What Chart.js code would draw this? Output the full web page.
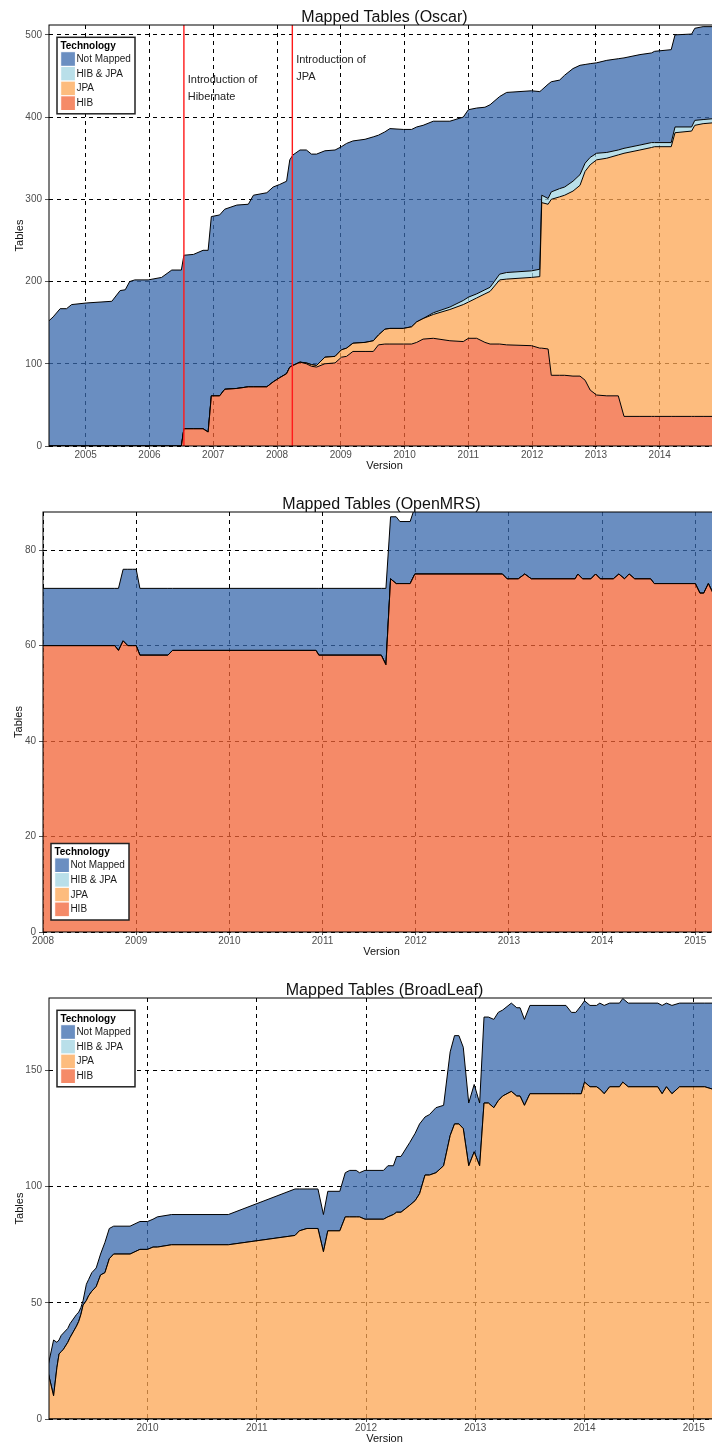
<!DOCTYPE html>
<html>
<head>
<meta charset="utf-8">
<title>Mapped Tables</title>
<script src="https://cdn.jsdelivr.net/npm/chart.js"></script>
<style>
  html, body { margin: 0; padding: 0; background: #fff; width: 712px; height: 1448px; overflow: hidden; }
  canvas { position: absolute; left: 0; }
</style>
</head>
<body>
<canvas id="oscar" width="720" height="473" style="top:0px"></canvas>
<canvas id="openmrs" width="720" height="479" style="top:480px"></canvas>
<canvas id="broadleaf" width="720" height="476" style="top:970px"></canvas>

<script>
// stack order, bottom -> top
const techLabels = ['HIB', 'JPA', 'HIB & JPA', 'Not Mapped'];

// ---- Oscar ----
const oscarYearTicks = [2005, 2006, 2007, 2008, 2009, 2010, 2011, 2012, 2013, 2014];
const oscarTableTicks = [0, 100, 200, 300, 400, 500];
const oscarVersions = [
  2004.42, 2004.49, 2004.60, 2004.70, 2004.78, 2005.02, 2005.41, 2005.54, 2005.62, 2005.69,
  2005.77, 2005.98, 2006.19, 2006.35, 2006.50, 2006.54, 2006.69, 2006.84, 2006.92, 2006.97,
  2007.10, 2007.18, 2007.37, 2007.55, 2007.63, 2007.84, 2007.94, 2008.04, 2008.15, 2008.20,
  2008.25, 2008.36, 2008.46, 2008.54, 2008.62, 2008.75, 2008.91, 2009.01, 2009.09, 2009.19,
  2009.38, 2009.51, 2009.59, 2009.69, 2009.77, 2009.98, 2010.11, 2010.19, 2010.29, 2010.45,
  2010.71, 2010.92, 2011.00, 2011.13, 2011.26, 2011.34, 2011.49, 2011.60, 2011.99, 2012.12,
  2012.15, 2012.25, 2012.30, 2012.43, 2012.51, 2012.64, 2012.75, 2012.83, 2012.91, 2013.01,
  2013.17, 2013.35, 2013.44, 2013.69, 2013.87, 2013.92, 2014.18, 2014.24, 2014.50, 2014.55,
  2014.68, 2014.83
];
const oscarHib = [
  0, 0, 0, 0, 0, 0, 0, 0, 0, 0,
  0, 0, 0, 0, 0, 21, 21, 21, 17, 61,
  61, 69, 70, 72, 72, 72, 78, 83, 88, 96,
  98, 102, 100, 97, 96, 100, 101, 108, 109, 115,
  115, 115, 123, 124, 124, 124, 124, 126, 130, 131,
  128, 127, 131, 131, 126, 124, 124, 123, 122, 119,
  119, 118, 86, 86, 86, 85, 85, 80, 68, 62,
  61, 61, 36, 36, 36, 36, 36, 36, 36, 36,
  36, 36
];
const oscarJpa = [
  0, 0, 0, 0, 0, 0, 0, 0, 0, 0,
  0, 0, 0, 0, 0, 0, 0, 0, 0, 0,
  0, 0, 0, 0, 0, 0, 0, 0, 0, 0,
  0, 0, 1, 2, 2, 8, 8, 9, 10, 10,
  11, 13, 12, 18, 19, 19, 21, 25, 25, 29,
  38, 45, 44, 49, 59, 64, 78, 80, 83, 87,
  177, 176, 214, 217, 219, 225, 232, 254, 274, 286,
  289, 293, 320, 324, 327, 328, 328, 345, 347, 354,
  356, 357
];
const oscarHibJpa = [
  0, 0, 0, 0, 0, 0, 0, 0, 0, 0,
  0, 0, 0, 0, 0, 0, 0, 0, 0, 0,
  0, 0, 0, 0, 0, 0, 0, 0, 0, 0,
  0, 0, 0, 0, 0, 0, 0, 0, 0, 0,
  0, 0, 0, 0, 0, 0, 0, 0, 0, 2,
  3, 5, 6, 5, 5, 5, 7, 8, 8, 9,
  9, 7, 9, 10, 10, 12, 13, 10, 9, 8,
  7, 6, 6, 6, 6, 5, 5, 7, 5, 6,
  5, 5
];
const oscarNotMapped = [
  152, 157, 167, 167, 172, 174, 176, 189, 190, 200,
  202, 202, 205, 214, 214, 211, 212, 217, 221, 218,
  220, 219, 223, 222, 233, 236, 237, 235, 234, 252,
  256, 258, 259, 256, 257, 251, 251, 247, 249, 246,
  247, 248, 243, 240, 243, 242, 240, 237, 235, 233,
  226, 223, 228, 226, 222, 222, 216, 219, 219, 216,
  128, 139, 134, 132, 136, 137, 133, 120, 114, 110,
  112, 111, 110, 110, 109, 111, 113, 112, 113, 112,
  113, 112
];
const oscarEvents = [2006.54, 2008.24];
const oscarEventText = [['Introduction of', 'Hibernate'], ['Introduction of', 'JPA']];

// ---- OpenMRS ----
const openmrsYearTicks = [2008, 2009, 2010, 2011, 2012, 2013, 2014, 2015];
const openmrsTableTicks = [0, 20, 40, 60, 80];
const openmrsVersions = [
  2008.00, 2008.77, 2008.81, 2008.86, 2008.91, 2008.96, 2009.00, 2009.04, 2009.34, 2009.39,
  2010.93, 2010.96, 2011.63, 2011.68, 2011.73, 2011.79, 2011.83, 2011.94, 2011.99, 2012.93,
  2012.98, 2013.10, 2013.17, 2013.24, 2013.71, 2013.74, 2013.79, 2013.88, 2013.93, 2013.98,
  2014.12, 2014.18, 2014.24, 2014.29, 2014.35, 2014.52, 2014.56, 2015.00, 2015.05, 2015.09,
  2015.14, 2015.19
];
const openmrsHib = [
  60, 60, 59, 61, 60, 60, 60, 58, 58, 59,
  59, 58, 58, 56, 74, 73, 73, 73, 75, 75,
  74, 74, 75, 74, 74, 75, 74, 74, 75, 74,
  74, 75, 74, 75, 74, 74, 73, 73, 71, 71,
  73, 71
];
const openmrsJpa = new Array(openmrsVersions.length).fill(0);
const openmrsHibJpa = new Array(openmrsVersions.length).fill(0);
const openmrsNotMapped = [
  12, 12, 13, 15, 16, 16, 16, 14, 14, 13,
  13, 14, 14, 16, 13, 14, 13, 13, 14, 14,
  15, 15, 14, 15, 15, 14, 15, 15, 14, 15,
  15, 14, 15, 14, 15, 15, 16, 16, 18, 18,
  16, 18
];

// ---- BroadLeaf ----
const broadleafYearTicks = [2010, 2011, 2012, 2013, 2014, 2015];
const broadleafTableTicks = [0, 50, 100, 150];
const broadleafVersions = [
  2009.09, 2009.14, 2009.17, 2009.19, 2009.21, 2009.23, 2009.27, 2009.29, 2009.35, 2009.37,
  2009.39, 2009.41, 2009.44, 2009.46, 2009.49, 2009.53, 2009.57, 2009.61, 2009.65, 2009.69,
  2009.84, 2009.93, 2010.00, 2010.05, 2010.09, 2010.22, 2010.74, 2011.35, 2011.39, 2011.46,
  2011.56, 2011.61, 2011.65, 2011.76, 2011.81, 2011.85, 2011.91, 2011.94, 2011.99, 2012.16,
  2012.20, 2012.25, 2012.28, 2012.32, 2012.40, 2012.45, 2012.49, 2012.54, 2012.58, 2012.64,
  2012.71, 2012.77, 2012.81, 2012.85, 2012.89, 2012.94, 2012.99, 2013.04, 2013.08, 2013.12,
  2013.17, 2013.21, 2013.25, 2013.33, 2013.38, 2013.41, 2013.45, 2013.50, 2013.83, 2013.88,
  2013.92, 2013.97, 2014.00, 2014.05, 2014.11, 2014.14, 2014.18, 2014.23, 2014.32, 2014.35,
  2014.40, 2014.67, 2014.71, 2014.75, 2014.80, 2014.87, 2015.10, 2015.17
];
const broadleafHib = new Array(broadleafVersions.length).fill(0);
const broadleafJpa = [
  20, 10, 22, 28, 29, 30, 33, 35, 40, 42,
  45, 49, 51, 53, 55, 57, 62, 63, 69, 71,
  71, 73, 73, 74, 74, 75, 75, 79, 81, 82,
  82, 72, 81, 81, 87, 87, 87, 87, 86, 86,
  87, 88, 89, 89, 92, 94, 97, 105, 105, 106,
  109, 122, 127, 127, 125, 109, 115, 109, 136, 136,
  134, 137, 139, 141, 139, 139, 135, 140, 140, 140,
  140, 140, 145, 143, 143, 142, 140, 143, 143, 145,
  143, 143, 140, 143, 140, 143, 143, 142
];
const broadleafHibJpa = new Array(broadleafVersions.length).fill(0);
const broadleafNotMapped = [
  3, 24, 11, 6, 7, 7, 6, 6, 5, 4,
  3, 2, 7, 7, 8, 8, 9, 13, 13, 12,
  12, 12, 12, 12, 13, 13, 13, 20, 18, 17,
  17, 16, 17, 17, 19, 20, 20, 19, 21, 21,
  22, 21, 24, 24, 27, 29, 30, 25, 26, 28,
  26, 36, 38, 38, 35, 27, 29, 27, 37, 37,
  38, 38, 37, 38, 38, 38, 37, 38, 38, 35,
  35, 38, 35, 35, 35, 37, 38, 36, 36, 36,
  36, 36, 38, 36, 38, 36, 36, 37
];

const FONT = '"Liberation Sans", Arial, Helvetica, sans-serif';
// semi transparent fills so the dashed grid shows through like in the original
const techFills = ['rgba(242,99,54,0.75)', 'rgba(252,166,83,0.75)', 'rgba(162,212,226,0.75)', 'rgba(56,104,172,0.75)'];

// title, frame, legend box and event markers
const panelDecor = {
  id: 'panelDecor',
  afterDatasetsDraw(chart, args, opts) {
    const { ctx, chartArea: a, scales: { x, y } } = chart;
    ctx.save();

    (opts.events || []).forEach((ev, i) => {
      const px = x.getPixelForValue(ev);
      ctx.strokeStyle = '#ff1a1a';
      ctx.lineWidth = 1.4;
      ctx.beginPath();
      ctx.moveTo(px, a.top);
      ctx.lineTo(px, a.bottom);
      ctx.stroke();
      ctx.fillStyle = '#222';
      ctx.font = '11px ' + FONT;
      ctx.textAlign = 'left';
      ctx.textBaseline = 'alphabetic';
      const ty = y.getPixelForValue(opts.eventTextAt[i]);
      opts.eventText[i].forEach((line, k) => ctx.fillText(line, px + 3.8, ty + k * 16.8));
    });

    // plot frame
    ctx.strokeStyle = '#000';
    ctx.lineWidth = 1;
    ctx.strokeRect(a.left, a.top, a.right - a.left, a.bottom - a.top);

    // legend
    const w = 78, h = 76.5;
    const lx = a.left + 8;
    const ly = opts.legendAt === 'bottom' ? a.bottom - 12 - h : a.top + 12.3;
    ctx.fillStyle = '#fff';
    ctx.fillRect(lx, ly, w, h);
    ctx.strokeStyle = '#222';
    ctx.lineWidth = 1.5;
    ctx.strokeRect(lx, ly, w, h);
    ctx.fillStyle = '#000';
    ctx.font = 'bold 10px ' + FONT;
    ctx.textAlign = 'left';
    ctx.textBaseline = 'alphabetic';
    ctx.fillText('Technology', lx + 3.4, ly + 11.7);
    const sets = chart.data.datasets.slice().reverse();
    sets.forEach((ds, i) => {
      const sy = ly + 14.4 + i * 14.7;
      ctx.fillStyle = ds.backgroundColor;
      ctx.fillRect(lx + 3.7, sy, 14.7, 14.7);
      ctx.strokeStyle = '#fff';
      ctx.lineWidth = 1;
      ctx.strokeRect(lx + 3.7, sy, 14.7, 14.7);
      ctx.fillStyle = '#1a1a1a';
      ctx.font = '10px ' + FONT;
      ctx.textBaseline = 'middle';
      ctx.fillText(ds.label, lx + 19.4, sy + 7.6);
    });

    // chart title, centred over the plot
    ctx.fillStyle = '#111';
    ctx.font = '16px ' + FONT;
    ctx.textAlign = 'center';
    ctx.textBaseline = 'alphabetic';
    ctx.fillText(opts.title, (a.left + a.right) / 2, a.top - 3.5);
    ctx.restore();
  }
};

function makePanel(id, p) {
  const datasets = p.series.map((vals, i) => ({
    label: techLabels[i],
    data: p.versions.map((v, k) => ({ x: v, y: vals[k] })),
    backgroundColor: techFills[i],
    borderColor: '#000',
    borderWidth: 1,
    pointRadius: 0,
    tension: 0,
    fill: i === 0 ? 'origin' : '-1'
  }));

  return new Chart(document.getElementById(id), {
    type: 'line',
    data: { datasets },
    plugins: [panelDecor],
    options: {
      responsive: false,
      animation: false,
      devicePixelRatio: 1,
      events: [],
      layout: { padding: { top: p.padTop, left: 0, right: 0, bottom: 0 } },
      plugins: {
        legend: { display: false },
        tooltip: { enabled: false },
        panelDecor: {
          title: p.title,
          legendAt: p.legendAt,
          events: p.events || [],
          eventText: p.eventText || [],
          eventTextAt: p.eventTextAt || []
        }
      },
      scales: {
        x: {
          type: 'linear',
          min: p.xMin,
          max: p.xMax,
          bounds: 'data',
          afterBuildTicks(s) { s.ticks = p.xTicks.map(v => ({ value: v })); },
          ticks: {
            autoSkip: false,
            maxRotation: 0,
            padding: 0,
            color: '#4d4d4d',
            font: { family: FONT, size: 10 },
            callback: v => String(v)
          },
          grid: { color: '#000', lineWidth: 1, tickLength: 3, tickColor: '#555' },
          border: { display: false, dash: [4, 4] },
          title: { display: true, text: 'Version', color: '#111', font: { family: FONT, size: 11 }, padding: 0 },
          afterFit(s) { s.height = 27; }
        },
        y: {
          type: 'linear',
          stacked: true,
          min: 0,
          max: p.yMax,
          bounds: 'data',
          afterBuildTicks(s) { s.ticks = p.yTicks.map(v => ({ value: v })); },
          ticks: {
            padding: 3,
            color: '#4d4d4d',
            font: { family: FONT, size: 10 },
            callback: v => String(v)
          },
          grid: { color: '#000', lineWidth: 1, tickLength: 4, tickColor: '#555' },
          border: { display: false, dash: [4, 4] },
          title: {
            display: true, text: 'Tables', color: '#111',
            font: { family: FONT, size: 11 },
            padding: { top: p.yTitlePad, bottom: 0 }
          },
          afterFit(s) { s.width = p.yWidth; }
        }
      }
    }
  });
}

makePanel('oscar', {
  title: 'Mapped Tables (Oscar)',
  versions: oscarVersions,
  series: [oscarHib, oscarJpa, oscarHibJpa, oscarNotMapped],
  xTicks: oscarYearTicks, yTicks: oscarTableTicks,
  xMin: 2004.425, xMax: 2014.945,
  yMax: 512, 
  padTop: 25, yWidth: 49, yTitlePad: 13.4,
  legendAt: 'top',
  events: oscarEvents,
  eventText: oscarEventText,
  eventTextAt: [441, 466]
});

makePanel('openmrs', {
  title: 'Mapped Tables (OpenMRS)',
  versions: openmrsVersions,
  series: [openmrsHib, openmrsJpa, openmrsHibJpa, openmrsNotMapped],
  xTicks: openmrsYearTicks, yTicks: openmrsTableTicks,
  xMin: 2008, xMax: 2015.265,
  yMax: 88,
  padTop: 32, yWidth: 43, yTitlePad: 12.4,
  legendAt: 'bottom'
});

makePanel('broadleaf', {
  title: 'Mapped Tables (BroadLeaf)',
  versions: broadleafVersions,
  series: [broadleafHib, broadleafJpa, broadleafHibJpa, broadleafNotMapped],
  xTicks: broadleafYearTicks, yTicks: broadleafTableTicks,
  xMin: 2009.098, xMax: 2015.24,
  yMax: 181.2,
  padTop: 28, yWidth: 49, yTitlePad: 13.4,
  legendAt: 'top'
});
</script>
</body>
</html>
